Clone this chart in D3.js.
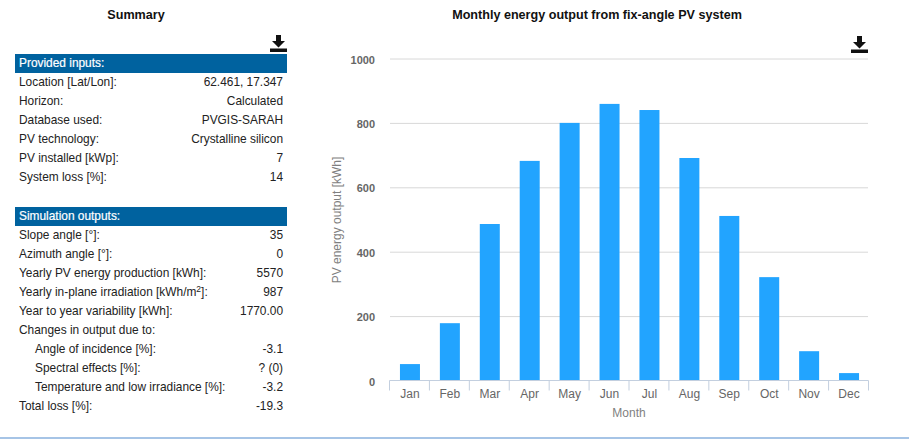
<!DOCTYPE html>
<html lang="en">

<head>
  <meta charset="UTF-8">
  <title>Monthly energy output</title>
  <style>
    html, body { margin: 0; padding: 0; background: #fff; }
    svg { display: block; font-family: "Liberation Sans", Arial, sans-serif; }
  </style>
</head>

<body>
  <div id="container"></div>
  <script src="https://d3js.org/d3.v7.min.js"></script>
  <script>
    const months = ["Jan", "Feb", "Mar", "Apr", "May", "Jun", "Jul", "Aug", "Sep", "Oct", "Nov", "Dec"]
    const energy = [51, 178, 486, 682, 800, 859, 840, 691, 511, 321, 91, 23]
    const yTicks = [0, 200, 400, 600, 800, 1000]

    const inputRows = [
      ["Location [Lat/Lon]:", "62.461, 17.347"],
      ["Horizon:", "Calculated"],
      ["Database used:", "PVGIS-SARAH"],
      ["PV technology:", "Crystalline silicon"],
      ["PV installed [kWp]:", "7"],
      ["System loss [%]:", "14"]
    ]
    // ^ marks the superscript part of a label
    const outputRows = [
      ["Slope angle [°]:", "35"],
      ["Azimuth angle [°]:", "0"],
      ["Yearly PV energy production [kWh]:", "5570"],
      ["Yearly in-plane irradiation [kWh/m^2^]:", "987"],
      ["Year to year variability [kWh]:", "1770.00"],
      ["Changes in output due to:", ""],
      ["Angle of incidence [%]:", "-3.1", 1],
      ["Spectral effects [%]:", "? (0)", 1],
      ["Temperature and low irradiance [%]:", "-3.2", 1],
      ["Total loss [%]:", "-19.3"]
    ]

    const svg = d3.select("#container").append("svg").attr("width", 909).attr("height", 439)

    // titles
    svg.append("text").attr("x", 136).attr("y", 19).attr("text-anchor", "middle")
      .attr("font-size", 12.6).attr("font-weight", "bold").attr("fill", "#111").text("Summary")
    svg.append("text").attr("x", 597).attr("y", 19).attr("text-anchor", "middle")
      .attr("font-size", 12.6).attr("font-weight", "bold").attr("fill", "#111").text("Monthly energy output from fix-angle PV system")

    // summary tables
    const drawTable = function (title, rows, top) {
      svg.append("rect").attr("x", 15).attr("y", top).attr("width", 272).attr("height", 19).attr("fill", "#00629f")
      svg.append("text").attr("x", 19).attr("y", top + 13).attr("font-size", 11.9).attr("fill", "#fff")
        .attr("stroke", "#fff").attr("stroke-width", 0.2).text(title)
      const row = svg.append("g").selectAll("g").data(rows).enter().append("g")
        .attr("transform", (d, i) => `translate(0,${top + 32 + i * 19})`)
        .attr("font-size", 11.9).attr("fill", "#222")
      row.append("text").attr("x", d => d[2] ? 35 : 19).each(function (d) {
        const parts = d[0].split("^")
        const label = d3.select(this)
        parts.forEach((part, i) => {
          const span = label.append("tspan").text(part)
          if (i == 1) span.attr("font-size", 8.5).attr("dy", -4)
          if (i == 2) span.attr("dy", 4)
        })
      })
      row.append("text").attr("x", 283).attr("text-anchor", "end").text(d => d[1])
    }
    drawTable("Provided inputs:", inputRows, 54)
    drawTable("Simulation outputs:", outputRows, 207)

    // chart
    const x = d3.scaleBand().domain(months).range([390, 869]).paddingInner(0)
    const y = d3.scaleLinear().domain([0, 1000]).range([380.5, 58.5])

    const yAxis = d3.axisLeft(y).tickValues(yTicks).tickSize(0).tickPadding(15).tickFormat(d3.format("d"))
    const gy = svg.append("g").attr("transform", "translate(390,0)").call(yAxis)
    gy.select(".domain").remove()
    gy.selectAll("text").attr("font-size", 11).attr("font-family", "Liberation Sans").attr("font-weight", "bold")
      .attr("fill", "#666").attr("dy", "0.42em")
    gy.selectAll(".tick").filter(d => d > 0).append("line")
      .attr("x1", 0).attr("x2", 478).attr("stroke", "#d8d8d8").attr("stroke-width", 1)

    svg.append("g").selectAll("rect").data(energy).enter().append("rect")
      .attr("x", (d, i) => x(months[i]) + x.bandwidth() / 2 - 10)
      .attr("width", 20)
      .attr("y", d => y(d))
      .attr("height", d => y(0) - y(d))
      .attr("fill", "#22a4ff")

    const xAxis = d3.axisBottom(x).tickSize(0).tickPadding(9)
    const gx = svg.append("g").attr("transform", "translate(0,380.5)").call(xAxis)
    gx.select(".domain").attr("stroke", "#c3cfdf").attr("d", "M389.5,0H868.5")
    gx.selectAll("text").attr("font-size", 12).attr("font-family", "Liberation Sans").attr("fill", "#666")
    const edges = months.map(m => x(m) - 0.5).concat([868.5])
    gx.selectAll(".edge").data(edges).enter().append("line").attr("class", "edge")
      .attr("x1", d => d).attr("x2", d => d).attr("y1", 0).attr("y2", 10).attr("stroke", "#c3cfdf")

    svg.append("text").attr("x", 629).attr("y", 417).attr("text-anchor", "middle")
      .attr("font-size", 12).attr("fill", "#7f7f7f").text("Month")
    svg.append("text").attr("transform", "translate(341,220) rotate(-90)").attr("text-anchor", "middle")
      .attr("font-size", 12).attr("fill", "#7f7f7f").text("PV energy output [kWh]")

    // download icons
    const drawIcon = function (left, top) {
      svg.append("path").attr("transform", `translate(${left},${top})`).attr("fill", "#111")
        .attr("d", "M6,0H11V6H15L8.5,12.5L2,6H6ZM0,13.5H17V17H0Z")
    }
    drawIcon(270, 35)
    drawIcon(851, 36)

    // page rule along the bottom
    svg.append("rect").attr("x", 0).attr("y", 437).attr("width", 909).attr("height", 2).attr("fill", "#a6c4e6")
  </script>
</body>

</html>
